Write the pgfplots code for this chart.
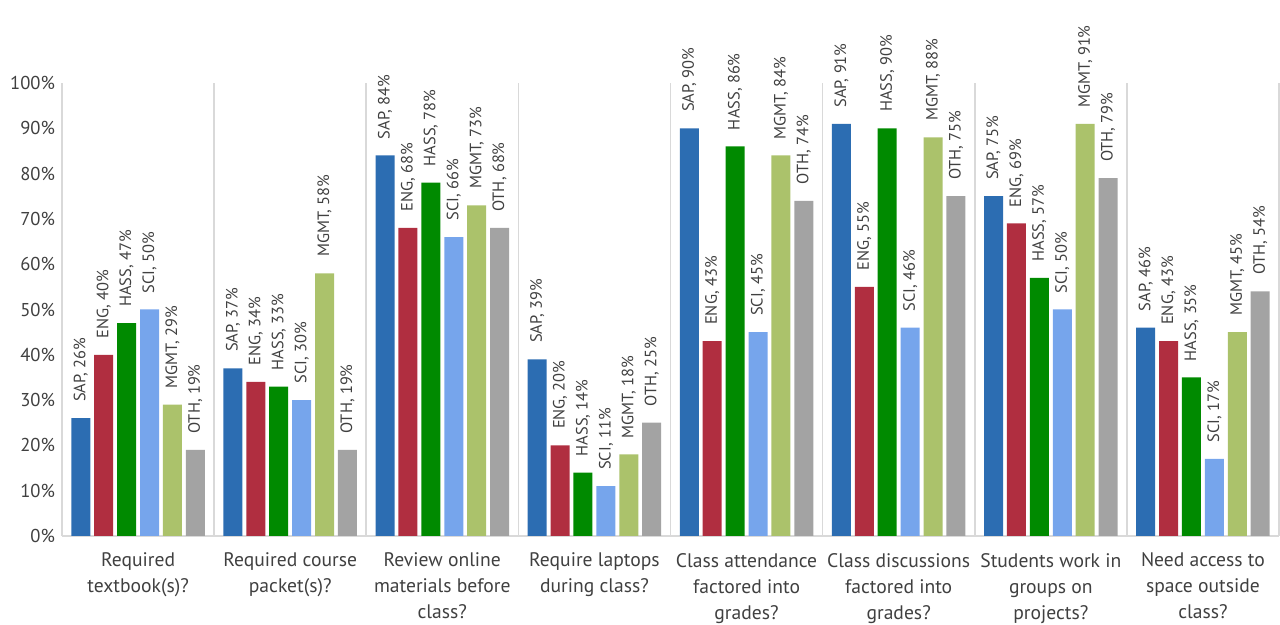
\documentclass[border=0pt]{standalone}
\usepackage{fontspec}
\setmainfont{PT Sans}
\usepackage{pgfplots}
\usepackage{pgfplotstable}
\pgfplotsset{compat=1.18}
\usetikzlibrary{calc}

\definecolor{sap}{HTML}{2C6DB2}
\definecolor{eng}{HTML}{B02E40}
\definecolor{hass}{HTML}{008A00}
\definecolor{sci}{HTML}{76A5EC}
\definecolor{mgmt}{HTML}{ABC26B}
\definecolor{oth}{HTML}{A3A3A3}
\definecolor{txt}{HTML}{404040}
\definecolor{sep}{HTML}{D9D9D9}

% categories at 0..7
\pgfplotstableread{
x sap eng hass sci mgmt oth
0 26 40 47 50 29 19
1 37 34 33 30 58 19
2 84 68 78 66 73 68
3 39 20 14 11 18 25
4 90 43 86 45 84 74
5 91 55 90 46 88 75
6 75 69 57 50 91 79
7 46 43 35 17 45 54
}\data

\begin{document}
\begin{tikzpicture}
  \begin{axis}[
      name=ax,
      width=608.5pt, height=226.5pt,
      scale only axis,
      ybar=1.95pt,
      bar width=9.5pt,
      xmin=-0.5, xmax=7.5,
      ymin=0, ymax=100,
      clip=false,
      axis x line*=bottom,
      axis y line*=left,
      axis line style={draw=sep, line width=0.8pt, -},
      xtick={0,...,7},
      xticklabels={
        {Required\\textbook(s)?},
        {Required course\\packet(s)?},
        {Review online\\materials before\\class?},
        {Require laptops\\during class?},
        {Class attendance\\factored into\\grades?},
        {Class discussions\\factored into\\grades?},
        {Students work in\\groups on\\projects?},
        {Need access to\\space outside\\class?}},
      xticklabel style={align=center, font=\fontsize{9.8}{13}\selectfont,
        text=txt, yshift=-5pt},
      minor xtick={-0.5,0.5,...,7.5},
      xminorgrids=true,
      minor grid style={draw=sep, line width=0.8pt},
      ytick={0,10,...,100},
      yticklabel={\pgfmathprintnumber{\tick}\%},
      yticklabel style={font=\fontsize{9.3}{11}\selectfont, text=txt},
      /pgf/number format/assume math mode=true,
      major tick length=0pt,
      minor tick length=0pt,
      nodes near coords align={horizontal},
      every node near coord/.append style={rotate=90, anchor=west,
        font=\fontsize{8.2}{9}\selectfont, text=txt, inner xsep=8pt},
    ]
    \addplot[fill=sap, draw=none,
      nodes near coords={SAP, \pgfmathprintnumber{\pgfplotspointmeta}\%}]
      table[x=x, y=sap] {\data};
    \addplot[fill=eng, draw=none,
      nodes near coords={ENG, \pgfmathprintnumber{\pgfplotspointmeta}\%}]
      table[x=x, y=eng] {\data};
    \addplot[fill=hass, draw=none,
      nodes near coords={HASS, \pgfmathprintnumber{\pgfplotspointmeta}\%}]
      table[x=x, y=hass] {\data};
    \addplot[fill=sci, draw=none,
      nodes near coords={SCI, \pgfmathprintnumber{\pgfplotspointmeta}\%}]
      table[x=x, y=sci] {\data};
    \addplot[fill=mgmt, draw=none,
      nodes near coords={MGMT, \pgfmathprintnumber{\pgfplotspointmeta}\%}]
      table[x=x, y=mgmt] {\data};
    \addplot[fill=oth, draw=none,
      nodes near coords={OTH, \pgfmathprintnumber{\pgfplotspointmeta}\%}]
      table[x=x, y=oth] {\data};
  \end{axis}
  \pgfresetboundingbox
  \path ($(ax.south west)+(-31pt,-44.5pt)$) rectangle ($(ax.north east)+(0.5pt,41.5pt)$);
\end{tikzpicture}
\end{document}
